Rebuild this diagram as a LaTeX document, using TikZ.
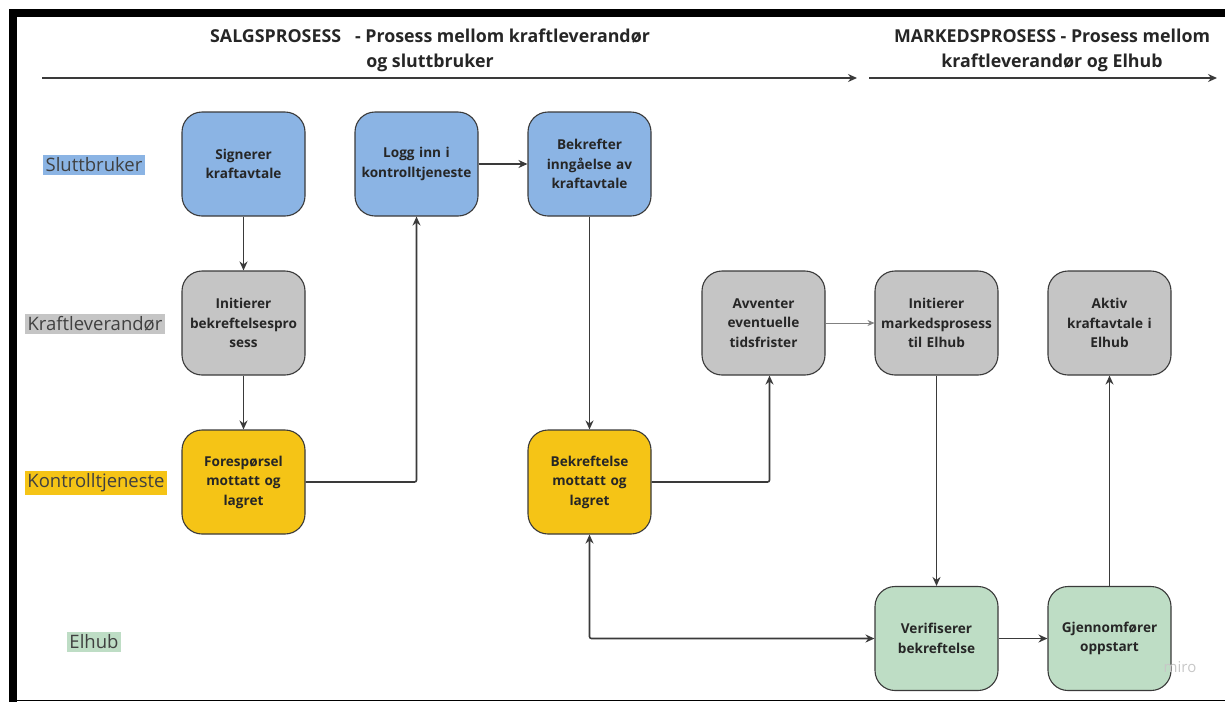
\documentclass[tikz,border=0pt]{standalone}
\usepackage{fontspec}
\setmainfont{Open Sans}
\usetikzlibrary{positioning,arrows.meta}
\definecolor{userblue}{RGB}{139,180,228}
\definecolor{suppgray}{RGB}{197,197,197}
\definecolor{ctrlyellow}{RGB}{245,196,22}
\definecolor{hubgreen}{RGB}{190,221,197}
\definecolor{edgegray}{RGB}{58,58,58}
\tikzset{
  stepbox/.style={draw=edgegray, line width=1.1pt, rounded corners=20pt,
    minimum width=123pt, minimum height=104pt, text width=121pt, align=center,
    inner sep=1pt, text=black!85, font=\bfseries\fontsize{13.6}{19.5}\selectfont},
  lane/.style={inner sep=2.5pt, text=black!75, font=\fontsize{18.5}{20}\selectfont},
  head/.style={align=center, text=black!85, font=\bfseries\fontsize{17.8}{25}\selectfont},
  flow/.style={draw=edgegray, line width=1.6pt, rounded corners=2pt,
    -{Stealth[length=9pt,width=8pt]}},
  faint/.style={draw=gray, line width=0.8pt, -{Stealth[length=7pt,width=6pt]}},
}

\begin{document}
\begin{tikzpicture}[x=1pt,y=-1pt]
  \useasboundingbox (0,0) rectangle (1225,702);
  % frame
  \fill (9,9) rectangle (1225,17);
  \fill (9,9) rectangle (17,702);
  \draw[line width=1.5pt] (9,700.5) -- (1225,700.5);

  % headers
  \node[head] (salg) at (430,50) {SALGSPROSESS\ \ \ - Prosess mellom kraftleverandør\\og sluttbruker};
  \node[head] (marked) at (1052,50) {MARKEDSPROSESS - Prosess mellom\\kraftleverandør og Elhub};
  \coordinate (salgA) at (42,78);
  \coordinate (salgB) at (857,78);
  \coordinate (markA) at (869,78);
  \coordinate (markB) at (1217,78);
  \draw[flow] (salgA) -- (salgB);
  \draw[flow] (markA) -- (markB);

  % lanes
  \node[lane, fill=userblue] (lbruker) at (94,165) {Sluttbruker};
  \node[lane, fill=suppgray] (lleverandor) at (95,324) {Kraftleverandør};
  \node[lane, fill=ctrlyellow] (lkontroll) at (96,483) {Kontrolltjeneste};
  \node[lane, fill=hubgreen] (lelhub) at (94,642) {Elhub};

  % steps
  \node[stepbox, fill=userblue] (sign) at (243.5,164) {Signerer\\kraftavtale};
  \node[stepbox, fill=userblue, on grid, right=173pt of sign] (login) {Logg inn i\\kontrolltjeneste};
  \node[stepbox, fill=userblue, on grid, right=173pt of login] (confirm) {Bekrefter\\inngåelse av\\kraftavtale};
  \node[stepbox, fill=suppgray, on grid, below=159pt of sign] (initconf) {Initierer\\bekreftelsespro\\sess};
  \node[stepbox, fill=ctrlyellow, on grid, below=159pt of initconf] (request) {Forespørsel\\mottatt og\\lagret};
  \node[stepbox, fill=ctrlyellow, on grid, below=318pt of confirm] (stored) {Bekreftelse\\mottatt og\\lagret};
  \node[stepbox, fill=suppgray, on grid, below right=159pt and 174pt of confirm] (await) {Avventer\\eventuelle\\tidsfrister};
  \node[stepbox, fill=suppgray, on grid, right=173pt of await] (market) {Initierer\\markedsprosess\\til Elhub};
  \node[stepbox, fill=suppgray, on grid, right=173pt of market] (active) {Aktiv\\kraftavtale i\\Elhub};
  \node[stepbox, fill=hubgreen, on grid, below=315.5pt of market] (verify) {Verifiserer\\bekreftelse};
  \node[stepbox, fill=hubgreen, on grid, right=173pt of verify] (startup) {Gjennomfører\\oppstart};

  \node[text=black!22, font=\fontsize{15}{15}\selectfont] (miro) at (1180,667) {miro};

  % connectors
  \draw[flow] (sign) -- (initconf);
  \draw[flow] (initconf) -- (request);
  \draw[flow] (request.east) -| (login.south);
  \draw[flow] (login) -- (confirm);
  \draw[flow] (confirm) -- (stored);
  \draw[flow] (stored.east) -| ([xshift=6pt]await.south);
  \draw[faint] (await) -- (market);
  \draw[flow] (market) -- (verify);
  \draw[flow, {Stealth[length=9pt,width=8pt]}-{Stealth[length=9pt,width=8pt]}] (stored.south) |- (verify.west);
  \draw[flow] (verify) -- (startup);
  \draw[flow] (startup) -- (active);
\end{tikzpicture}
\end{document}
